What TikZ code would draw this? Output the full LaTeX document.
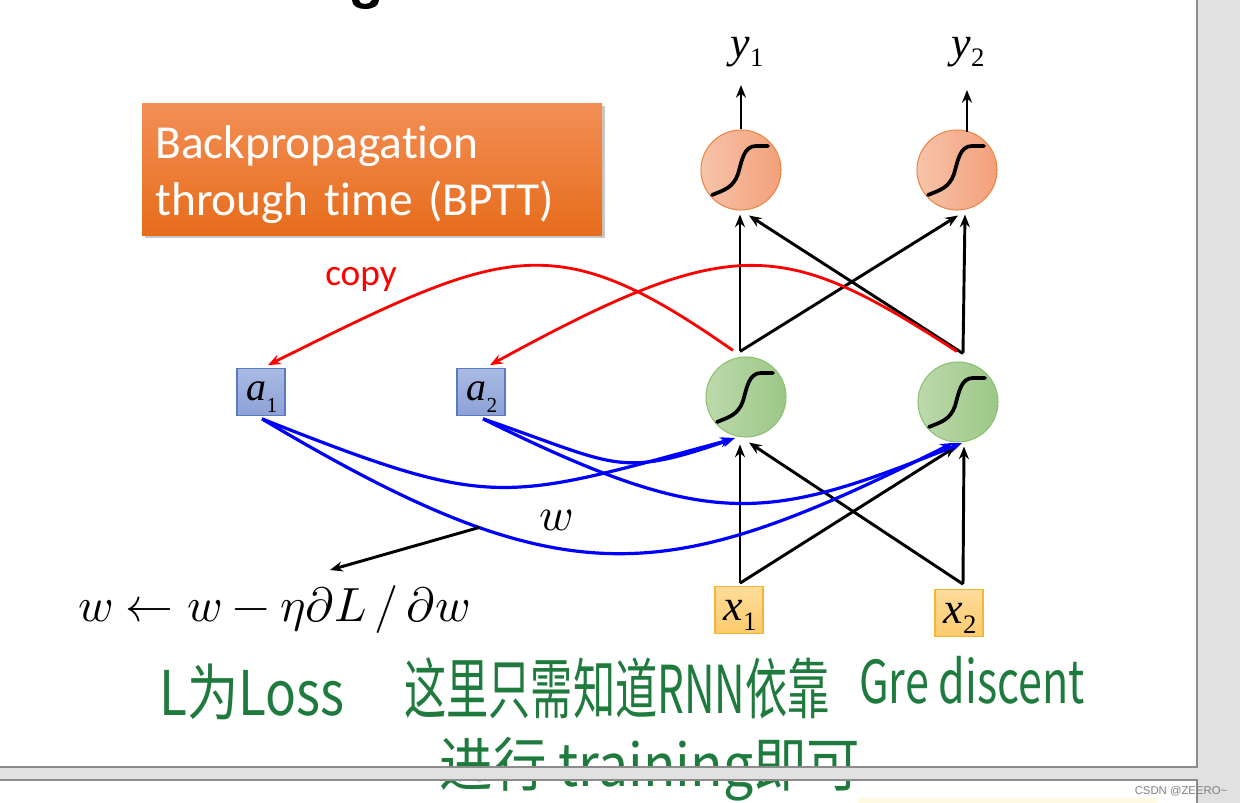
\documentclass[tikz,border=0pt]{standalone}
\usepackage{fontspec}
\usepackage{unicode-math}
\setmainfont{Liberation Serif}
\newfontfamily\carl[Ligatures={NoCommon}]{Carlito}
\newfontfamily\cjk{Noto Sans CJK SC}
\newfontfamily\lsans{Liberation Sans}
\usetikzlibrary{arrows.meta,calc}
\definecolor{boxtop}{HTML}{F38F56}
\definecolor{boxbot}{HTML}{E66C1B}
\definecolor{oleft}{HTML}{F7C4AA}
\definecolor{oright}{HTML}{F2A07A}
\definecolor{oedge}{HTML}{EE8644}
\definecolor{gleft}{HTML}{BDD9AC}
\definecolor{gright}{HTML}{9CC787}
\definecolor{gedge}{HTML}{8DC070}
\definecolor{atop}{HTML}{A9BAE3}
\definecolor{abot}{HTML}{8DA1D6}
\definecolor{aedge}{HTML}{5A7BC2}
\definecolor{xtop}{HTML}{FEDC9B}
\definecolor{xbot}{HTML}{FCCB6B}
\definecolor{xedge}{HTML}{F6B43A}
\definecolor{hand}{HTML}{1F7A3D}
\definecolor{pagegray}{HTML}{E1E1E1}
\definecolor{pageedge}{HTML}{8C8C8C}
\definecolor{paleyellow}{HTML}{FFFBE3}
\newcommand\lab[5]{{\fontsize{#3}{#3}\selectfont\itshape #1}\raisebox{-#5}{\fontsize{#4}{#4}\selectfont #2}}
\newcommand\sigcurve[1]{\begin{scope}[shift={(#1.center)}]\draw[sigline] (-29,25) .. controls (-17,20) and (-8,18) .. (-3,4) .. controls (1,-10) and (3,-24) .. (15,-24) -- (27,-24);\end{scope}}
\tikzset{
 sigline/.style={line width=2.8pt, line cap=round, line join=round},
 osig/.style={circle, minimum size=60pt, inner sep=0pt, draw=oedge, line width=0.8pt, left color=oleft, right color=oright},
 gsig/.style={circle, minimum size=60pt, inner sep=0pt, draw=gedge, line width=0.8pt, left color=gleft, right color=gright},
 abox/.style={rectangle, minimum width=36pt, minimum height=35pt, inner sep=0pt, draw=aedge, line width=0.8pt, top color=atop, bottom color=abot},
 xbox/.style={rectangle, minimum width=36pt, minimum height=35pt, inner sep=0pt, draw=xedge, line width=0.8pt, top color=xtop, bottom color=xbot},
 labtext/.style={inner sep=0pt, anchor=base},
 arr/.style={line width=2.2pt, -{Stealth[length=9.5pt,width=7.5pt]}},
 redarr/.style={draw=red, line width=2.1pt, -{Stealth[length=9.5pt,width=7.5pt]}},
 bluearr/.style={draw=blue, line width=2.4pt, -{Stealth[length=9.5pt,width=7.5pt]}},
 hw/.style={text=hand, inner sep=0pt, font=\cjk},
 bptt/.style={rectangle, minimum width=345pt, minimum height=99pt, inner sep=0pt, top color=boxtop, bottom color=boxbot},
 bptttext/.style={inner xsep=10pt, inner ysep=0pt, text width=325pt, align=left, text=white, font=\carl\fontsize{35.5}{42.75}\selectfont},
}
\begin{document}
\begin{tikzpicture}[x=0.75pt,y=-0.75pt]
\useasboundingbox (0,0) rectangle (1240,803);
% pages
\fill[pagegray] (0,0) rectangle (1240,803);
\fill[white] (0,0) rectangle (1197,767);
\fill[white] (0,780) rectangle (1197,803);
\fill[paleyellow] (858,798) rectangle (1157,803);
% bottom of a cut-off title letter
\fill[black] (352,0) .. controls (352,6) and (358,9) .. (365,9) .. controls (373,9) and (379,6) .. (379,0) -- (372,0) .. controls (371,3) and (368,4) .. (365,4) .. controls (362,4) and (359,3) .. (359,0) -- cycle;
% orange title box
\fill[black, opacity=0.22] (145,106) rectangle (605,238);
\node[bptt] (bp) at (372,169) {};
\node[bptttext] (bpt) at ($(bp.center)+(0,6)$) {Backpropagation\\through time (BPTT)};
% neurons
\node[osig] (o1) at (741,170) {};
\node[osig] (o2) at (957,170) {};
\node[gsig] (g1) at (746,397) {};
\node[gsig] (g2) at (958,402) {};
\sigcurve{o1}\sigcurve{o2}\sigcurve{g1}\sigcurve{g2}
% boxes
\node[abox] (a1) at (261,392) {};
\node[abox] (a2) at (481,392) {};
\node[xbox] (x1) at (739,610) {};
\node[xbox] (x2) at (959,613) {};
\node[labtext] (a1t) at (262,400) {\lab{a}{1}{30pt}{16pt}{9pt}};
\node[labtext] (a2t) at (482,400) {\lab{a}{2}{30pt}{16pt}{9pt}};
\node[labtext] (x1t) at (740,620) {\lab{x}{1}{33pt}{20pt}{7.5pt}};
\node[labtext] (x2t) at (960,623) {\lab{x}{2}{33pt}{20pt}{7.5pt}};
\node[labtext] (y1) at (747,57) {\lab{y}{1}{33pt}{20pt}{7pt}};
\node[labtext] (y2) at (968,57) {\lab{y}{2}{33pt}{20pt}{7pt}};
% output arrows
\draw[arr] (o1.north) -- ($(o1.north |- y1.base)+(0,28)$);
\draw[arr] ($(o2.north)+(10,3)$) -- ($(o2.north |- y2.base)+(10,33)$);
% hidden to output
\draw[arr] ($(g1.north)+(-6,-5)$) -- ($(o1.south)+(-1,4)$);
\draw[arr] ($(g1.north)+(-6,-5)$) -- ($(o2.south)+(1,5)$);
\draw[arr] ($(g2.north)+(5,-8)$) -- ($(o2.south)+(8,4)$);
\draw[arr] ($(g2.north)+(5,-8)$) -- ($(o1.south)+(8,5)$);
% input to hidden
\draw[arr] ($(x1.north)+(1,-3)$) -- ($(g1.south)+(-6,7)$);
\draw[arr] ($(x1.north)+(1,-3)$) -- ($(g2.south)+(-2,4)$);
\draw[arr] ($(x2.north)+(4,-5)$) -- ($(g2.south)+(6,4)$);
\draw[arr] ($(x2.north)+(4,-5)$) -- ($(g1.south)+(3,5)$);
% copy arrows
\draw[redarr] ($(g1.north)+(-13,-6)$) .. controls (554,225) and (507,246) .. ($(a1.north)+(7,-3)$);
\draw[redarr] ($(g2.north)+(-1,-10)$) .. controls (783,239) and (735,231) .. ($(a2.north)+(9,-3)$);
\node[text=red, font=\carl\fontsize{28}{28}\selectfont] (cp) at (361,279) {copy};
% recurrent weights
\draw[bluearr] ($(a1.south)+(1,3)$) .. controls (495,511) and (500,502) .. ($(g1.center)+(-13,42)$);
\draw[bluearr] ($(a1.south)+(1,3)$) .. controls (569,602) and (666,586) .. coordinate[pos=0.28] (wp) ($(g2.center)+(-5,41)$);
\draw[bluearr] ($(a2.south)+(2,3)$) .. controls (618,465) and (617,479) .. ($(g1.center)+(-11,41)$);
\draw[bluearr] ($(a2.south)+(2,3)$) .. controls (712,532) and (766,522) .. ($(g2.center)+(4,41)$);
\node[inner sep=0pt] (wl) at (556,520) {\fontsize{35}{35}\selectfont$w$};
% update rule
\node[labtext] (eq) at (274,621) {\fontsize{36}{36}\selectfont$w \leftarrow w - \eta\partial L\,/\,\partial w$};
\draw[arr] (wp) -- ($(eq.base)+(56,-51)$);
% handwriting
\node[hw] (h1) at (252,692) {\resizebox*{139pt}{42pt}{L为Loss}};
\node[hw] (h2) at (617,688) {\resizebox*{319pt}{46pt}{这里只需知道RNN依靠}};
\node[hw] (h3) at (972,680) {\resizebox*{169pt}{36pt}{Gre discent}};
\node[hw] (h4) at (650,769) {\resizebox*{315pt}{48pt}{进行 training即可}};
% page break bar over the text
\fill[pagegray] (0,767.5) rectangle (1197,779.5);
\draw[pageedge, line width=0.9pt] (0,767) -- (1197,767) -- (1197,0);
\draw[pageedge, line width=0.9pt] (0,780) -- (1197,780) -- (1197,803);
\node[text=black!50, font=\lsans\fontsize{8.5}{10}\selectfont] (wm) at (1181,791) {CSDN @ZEERO\textasciitilde};
\end{tikzpicture}
\end{document}
